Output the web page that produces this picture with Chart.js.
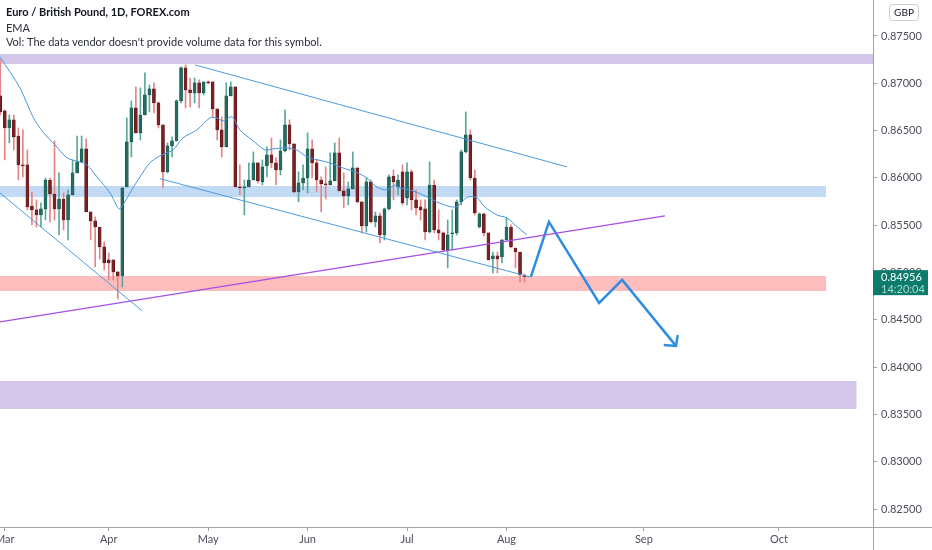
<!DOCTYPE html>
<html>
<head>
<meta charset="utf-8">
<script src="https://cdn.jsdelivr.net/npm/chart.js@4.4.1/dist/chart.umd.min.js"></script>
<style>
  html, body { margin: 0; padding: 0; background: #ffffff; }
  #wrap { width: 932px; height: 550px; position: relative; }
</style>
</head>
<body>
<div id="wrap"><canvas id="chart"></canvas></div>
<script>
// daily EUR/GBP candles, first one is the bar before Mar 1
const FIRST_BAR = -1;
const opens = [0.86866,0.86708,0.86528,0.86613,0.86443,0.86137,0.86137,0.85703,0.85661,0.85608,0.85672,0.85978,0.85830,0.85672,0.85777,0.85555,0.85820,0.86052,0.86169,0.86306,0.85640,0.85545,0.85481,0.85270,0.85133,0.85133,0.85006,0.84963,0.85904,0.86380,0.86739,0.86475,0.86665,0.86877,0.86940,0.86792,0.86560,0.86063,0.86338,0.86391,0.86813,0.87162,0.86930,0.86898,0.87004,0.86898,0.87014,0.87014,0.86729,0.86507,0.86327,0.86866,0.86961,0.85904,0.85894,0.85904,0.85978,0.86158,0.85957,0.86126,0.86243,0.86158,0.86084,0.86285,0.86560,0.86359,0.85851,0.85947,0.85999,0.86306,0.86158,0.85978,0.85936,0.85925,0.85968,0.86264,0.85862,0.85809,0.85883,0.86105,0.85746,0.85492,0.85957,0.85534,0.85598,0.85397,0.85672,0.86020,0.85904,0.86063,0.85788,0.86063,0.85767,0.85693,0.85672,0.85429,0.85925,0.85450,0.85418,0.85238,0.85407,0.85418,0.85746,0.86274,0.86454,0.85999,0.85481,0.85619,0.85418,0.85143,0.85175,0.85164,0.85344,0.85481,0.85259,0.85217,0.84963];
const highs = [0.87247,0.86718,0.86665,0.86665,0.86528,0.86507,0.86295,0.85851,0.85767,0.85735,0.85999,0.85999,0.86391,0.86052,0.85841,0.85873,0.86190,0.86443,0.86443,0.86412,0.85640,0.85587,0.85481,0.85323,0.85207,0.85133,0.85006,0.85894,0.86634,0.86813,0.86961,0.86951,0.87109,0.86982,0.87004,0.86803,0.86560,0.86369,0.86433,0.86824,0.87173,0.87194,0.87056,0.87056,0.87035,0.87014,0.87025,0.87014,0.86729,0.86644,0.87004,0.87014,0.86961,0.86137,0.85978,0.86158,0.86274,0.86158,0.86190,0.86327,0.86422,0.86211,0.86401,0.86718,0.86613,0.86359,0.86063,0.86137,0.86475,0.86401,0.86190,0.86010,0.86116,0.86264,0.86369,0.86422,0.86052,0.85957,0.86274,0.86105,0.85746,0.85999,0.85978,0.85640,0.85629,0.85682,0.86031,0.86084,0.86031,0.86137,0.86158,0.86084,0.85873,0.85767,0.85767,0.86169,0.85978,0.85661,0.85429,0.85555,0.85661,0.85767,0.86295,0.86697,0.86507,0.86084,0.85629,0.85629,0.85418,0.85217,0.85217,0.85344,0.85577,0.85503,0.85259,0.85217,0.84985];
const lows = [0.86665,0.86190,0.86369,0.86295,0.85978,0.86010,0.85661,0.85503,0.85481,0.85481,0.85555,0.85534,0.85555,0.85397,0.85450,0.85344,0.85820,0.86052,0.86169,0.85640,0.85344,0.85059,0.85143,0.85027,0.84921,0.84921,0.84720,0.84847,0.85904,0.86221,0.86475,0.86401,0.86665,0.86697,0.86687,0.86528,0.85894,0.86052,0.86221,0.86391,0.86792,0.86739,0.86750,0.86792,0.86739,0.86877,0.86993,0.86634,0.86401,0.86221,0.86327,0.86866,0.85904,0.85820,0.85608,0.85904,0.85978,0.85947,0.85925,0.86010,0.86105,0.85925,0.86031,0.86274,0.86295,0.85841,0.85746,0.85873,0.85841,0.85999,0.85851,0.85640,0.85777,0.85925,0.85968,0.85862,0.85682,0.85714,0.85883,0.85735,0.85418,0.85429,0.85524,0.85481,0.85312,0.85344,0.85661,0.85767,0.85820,0.85714,0.85714,0.85661,0.85608,0.85555,0.85344,0.85418,0.85418,0.85344,0.85217,0.85048,0.85238,0.85397,0.85714,0.86264,0.85978,0.85608,0.85471,0.85386,0.85133,0.84995,0.84995,0.85101,0.85344,0.85259,0.85048,0.84900,0.84900];
const closes = [0.86697,0.86528,0.86613,0.86433,0.86137,0.86126,0.85693,0.85661,0.85608,0.85672,0.85978,0.85830,0.85672,0.85777,0.85555,0.85820,0.86052,0.86169,0.86306,0.85640,0.85545,0.85481,0.85270,0.85101,0.85101,0.85006,0.84963,0.85894,0.86380,0.86739,0.86475,0.86665,0.86877,0.86940,0.86792,0.86560,0.86063,0.86338,0.86391,0.86813,0.87162,0.86930,0.86898,0.87004,0.86898,0.87014,0.87004,0.86729,0.86507,0.86327,0.86866,0.86961,0.85904,0.85894,0.85904,0.85978,0.86158,0.85968,0.86116,0.86243,0.86158,0.86084,0.86285,0.86560,0.86359,0.85851,0.85947,0.85999,0.86306,0.86158,0.85978,0.85936,0.85925,0.85968,0.86264,0.85862,0.85809,0.85883,0.86105,0.85746,0.85492,0.85957,0.85534,0.85598,0.85397,0.85672,0.86010,0.85957,0.85978,0.85735,0.86063,0.85767,0.85682,0.85661,0.85429,0.85925,0.85450,0.85418,0.85238,0.85397,0.85418,0.85746,0.86274,0.86454,0.85999,0.85629,0.85619,0.85418,0.85133,0.85175,0.85143,0.85344,0.85481,0.85270,0.85217,0.84974,0.84956];

// EMA (bar index, price)
const emaIdx = [-1.06,3.36,6.24,8.45,11.1,13.8,16.6,18.2,20.4,23.3,25.3,26.4,28.1,29.9,32.1,34.3,37.2,39.4,42.5,45.4,46.9,48.3,50.3,52.0,54.7,57.6,59.3,62.4,64.6,66.9,69.3,71.9,74.8,77.5,80.1,82.3,84.6,86.3,87.4,89.6,92.5,95.6,98.0,100.0,101.1,102.5,104.5,106.2,108.9,111.1,112.9,115.5];
const emaVals = [0.87278,0.86951,0.86644,0.86486,0.86348,0.86211,0.86168,0.86137,0.86010,0.85841,0.85672,0.85735,0.85873,0.86010,0.86158,0.86232,0.86295,0.86422,0.86507,0.86634,0.86634,0.86602,0.86644,0.86507,0.86401,0.86295,0.86306,0.86317,0.86295,0.86221,0.86190,0.86158,0.86105,0.86063,0.86000,0.85904,0.85873,0.85925,0.85894,0.85873,0.85820,0.85746,0.85703,0.85693,0.85746,0.85799,0.85788,0.85693,0.85608,0.85577,0.85503,0.85397];

// zones: [top, bottom, right end (bar index)]
const zoneTopPurple = [0.87310, 0.87204, 192.1];
const zoneBlue = [0.85915, 0.85799, 181.7];
const zoneRed = [0.84963, 0.84805, 181.7];
const zoneLowPurple = [0.83853, 0.83557, 188.5];

// trend lines: [barIndex, price] pairs
const channelTop = [[42.08, 0.87194], [124.4, 0.86116]];
const channelBottom = [[34.3, 0.85992], [116.2, 0.84953]];
const leftLine = [[-1.06, 0.85841], [30.4, 0.84594]];
const supportLine = [[-1.06, 0.84477], [146.06, 0.85598]];
const projection = [[116.4, 0.84953], [120.4, 0.85534], [131.5, 0.84678], [136.6, 0.84921], [148.5, 0.84224]];
const arrowHead = [[148.9, 0.84340], [148.5, 0.84224], [145.8, 0.84234]];

// axes
const X_MIN = -1.06;
const X_MAX = 192.1;
const monthIdx = [0, 23, 45, 67, 89, 111, 141.4, 171.3];
const monthLabels = ['Mar', 'Apr', 'May', 'Jun', 'Jul', 'Aug', 'Sep', 'Oct'];
const priceTicks = [0.825, 0.830, 0.835, 0.840, 0.845, 0.850, 0.855, 0.860, 0.865, 0.870, 0.875];

const lastPrice = '0.84956';
const countdown = '14:20:04';

Chart.defaults.font.family = 'Lato, "Open Sans", sans-serif';
Chart.defaults.font.size = 11;

const UP_BODY = '#1f6e61';
const DOWN_BODY = '#7e1f22';
const UP_WICK = '#5aa89b';
const DOWN_WICK = '#e58585';

const isUp = opens.map((o, k) => closes[k] >= o);
const bodies = opens.map((o, k) => ({ x: FIRST_BAR + k, y: [o, closes[k]] }));
const wicks = lows.map((l, k) => ({ x: FIRST_BAR + k, y: [l, highs[k]] }));

const toPts = arr => arr.map(p => ({ x: p[0], y: p[1] }));

function zone(z, color) {
  return [
    {
      type: 'line',
      data: [{ x: X_MIN, y: z[0] }, { x: z[2], y: z[0] }],
      borderWidth: 0,
      pointRadius: 0,
      backgroundColor: color,
      fill: '+1',
      order: 6
    },
    {
      type: 'line',
      data: [{ x: X_MIN, y: z[1] }, { x: z[2], y: z[1] }],
      borderWidth: 0,
      pointRadius: 0,
      fill: false,
      order: 6
    }
  ];
}

function trend(arr, color, width) {
  return {
    type: 'line',
    data: toPts(arr),
    borderColor: color,
    borderWidth: width,
    pointRadius: 0,
    fill: false,
    order: 1
  };
}

// scales must not reserve room for half labels at their ends
function noEdgePadding(scale) {
  scale.paddingLeft = 0;
  scale.paddingRight = 0;
  scale.paddingTop = 0;
  scale.paddingBottom = 0;
}

const overlay = {
  id: 'overlay',
  afterDraw(chart) {
    const { ctx, chartArea } = chart;
    const yScale = chart.scales.y;
    ctx.save();

    // frame lines of the price and time axes
    ctx.strokeStyle = '#9fa2ab';
    ctx.lineWidth = 1;
    ctx.beginPath();
    ctx.moveTo(chartArea.right + 0.5, 0);
    ctx.lineTo(chartArea.right + 0.5, chart.height);
    ctx.moveTo(0, chartArea.bottom + 0.5);
    ctx.lineTo(chart.width, chartArea.bottom + 0.5);
    ctx.stroke();

    // legend text
    ctx.textBaseline = 'middle';
    ctx.textAlign = 'left';
    ctx.fillStyle = '#131722';
    ctx.font = 'bold 11px Lato, sans-serif';
    ctx.fillText('Euro / British Pound, 1D, FOREX.com', 6, 12);
    ctx.fillStyle = '#2a2e39';
    ctx.font = '11px Lato, sans-serif';
    ctx.fillText('EMA', 6, 28);
    ctx.fillText("Vol: The data vendor doesn't provide volume data for this symbol.", 6, 42);

    // currency box
    ctx.strokeStyle = '#c8cbd3';
    ctx.fillStyle = '#ffffff';
    ctx.beginPath();
    ctx.roundRect(889.5, 4.5, 29, 16, 3);
    ctx.fill();
    ctx.stroke();
    ctx.fillStyle = '#131722';
    ctx.font = '10px Lato, sans-serif';
    ctx.textAlign = 'center';
    ctx.fillText('GBP', 904, 13);

    // last price tag
    const py = yScale.getPixelForValue(parseFloat(lastPrice));
    ctx.fillStyle = '#0c7b6c';
    ctx.fillRect(chartArea.right, py - 6.5, 55, 25);
    ctx.textAlign = 'left';
    ctx.font = '11px Lato, sans-serif';
    ctx.fillStyle = '#ffffff';
    ctx.fillText(lastPrice, chartArea.right + 8, py + 0.5);
    ctx.fillStyle = '#a6dbd1';
    ctx.fillText(countdown, chartArea.right + 8, py + 12.5);

    ctx.restore();
  }
};

new Chart(document.getElementById('chart'), {
  type: 'bar',
  data: {
    datasets: [
      ...zone(zoneTopPurple, '#d3c8ea'),
      ...zone(zoneBlue, '#c3daf5'),
      ...zone(zoneRed, '#fdbdbd'),
      ...zone(zoneLowPurple, '#d3c8ea'),
      {
        label: 'wicks',
        data: wicks,
        backgroundColor: isUp.map(u => (u ? UP_WICK : DOWN_WICK)),
        barThickness: 1,
        grouped: false,
        minBarLength: 1,
        order: 4
      },
      {
        label: 'bodies',
        data: bodies,
        backgroundColor: isUp.map(u => (u ? UP_BODY : DOWN_BODY)),
        borderColor: isUp.map(u => (u ? '#143f38' : '#4a1214')),
        borderWidth: 0.5,
        borderSkipped: false,
        barThickness: 3,
        grouped: false,
        minBarLength: 1,
        order: 3
      },
      {
        type: 'line',
        label: 'EMA',
        data: emaIdx.map((x, k) => ({ x: x, y: emaVals[k] })),
        borderColor: '#4596dc',
        borderWidth: 1,
        pointRadius: 0,
        tension: 0.3,
        fill: false,
        order: 2
      },
      trend(channelTop, '#4a9be0', 1),
      trend(channelBottom, '#4a9be0', 1),
      trend(leftLine, '#4a9be0', 1),
      trend(supportLine, '#a64ee6', 1.3),
      trend(projection, '#2f8ce2', 2.5),
      trend(arrowHead, '#2f8ce2', 2.5)
    ]
  },
  options: {
    responsive: true,
    maintainAspectRatio: false,
    animation: false,
    events: [],
    layout: { padding: 0, autoPadding: false },
    plugins: {
      legend: { display: false },
      tooltip: { enabled: false }
    },
    scales: {
      x: {
        type: 'linear',
        offset: false,
        min: X_MIN,
        max: X_MAX,
        afterFit(scale) { scale.height = 23; noEdgePadding(scale); },
        afterBuildTicks(scale) { scale.ticks = monthIdx.map(v => ({ value: v })); },
        border: { display: false },
        grid: { offset: false, drawOnChartArea: false, drawTicks: true, tickLength: 4, color: '#9fa2ab' },
        ticks: {
          autoSkip: false,
          maxRotation: 0,
          minRotation: 0,
          padding: 2,
          color: '#4c4f59',
          font: { size: 11 },
          callback: (value, index) => monthLabels[index]
        }
      },
      y: {
        type: 'linear',
        position: 'right',
        min: 0.8231,
        max: 0.8788,
        afterFit(scale) { scale.width = 59; noEdgePadding(scale); },
        afterBuildTicks(scale) { scale.ticks = priceTicks.map(v => ({ value: v })); },
        border: { display: false },
        grid: { offset: false, drawOnChartArea: false, drawTicks: true, tickLength: 4, color: '#9fa2ab' },
        ticks: {
          padding: 4,
          color: '#4c4f59',
          font: { size: 11 },
          callback: value => value.toFixed(5)
        }
      }
    }
  },
  plugins: [overlay]
});
</script>
</body>
</html>
